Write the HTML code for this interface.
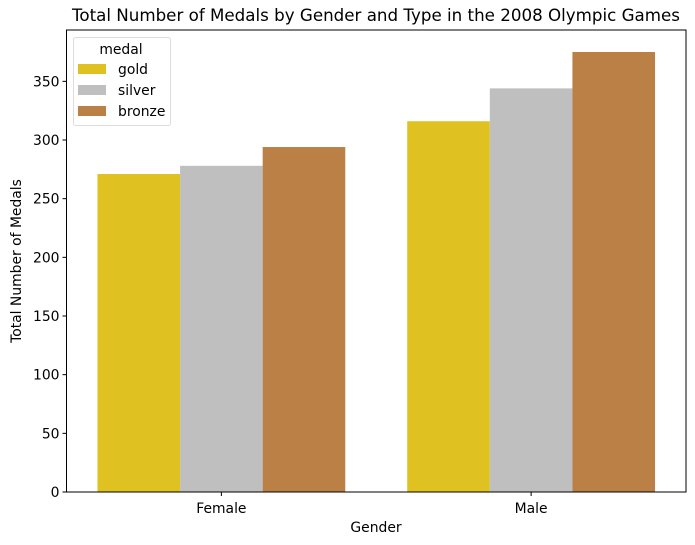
<!DOCTYPE html>
<html><head><meta charset="utf-8"><style>body{margin:0;background:#fff}svg{display:block;font-family:"DejaVu Sans","Liberation Sans",sans-serif}</style></head>
<body>
<svg id="chart" width="695" height="545" xmlns="http://www.w3.org/2000/svg">
<rect width="695" height="545" fill="#fff"/>
<text x="376" y="21" font-size="16.7" text-anchor="middle">Total Number of Medals by Gender and Type in the 2008 Olympic Games</text>
<g id="bars"></g>
<g id="yaxis"></g>
<g id="xaxis"></g>
<rect x="66.5" y="30" width="619.5" height="462" fill="none" stroke="#000" stroke-width="1"/>
<text x="376" y="532" font-size="13.9" text-anchor="middle">Gender</text>
<text transform="translate(21,261) rotate(-90)" font-size="13.9" text-anchor="middle">Total Number of Medals</text>
<g id="legend"></g>
</svg>
<script>
const categories = ["Female", "Male"];
const medals = ["gold", "silver", "bronze"];
const gold = [271, 316];
const silver = [278, 344];
const bronze = [294, 375];
const yTicks = [0, 50, 100, 150, 200, 250, 300, 350];
const colors = {gold: "#dfc221", silver: "#bfbfbf", bronze: "#ba8046"};

const NS = "http://www.w3.org/2000/svg";
const L = 66.5, R = 686, T = 30, B = 492;
const series = {gold, silver, bronze};
const maxV = Math.max(...gold, ...silver, ...bronze) * 1.05;
const y = v => B - v / maxV * (B - T);
const step = (R - L) / categories.length;
const x = i => L + step * (i + 0.5);
const bw = step * 0.8 / medals.length;

function mk(tag, attrs, parent) {
  const e = document.createElementNS(NS, tag);
  for (const k in attrs) e.setAttribute(k, attrs[k]);
  parent.appendChild(e);
  return e;
}
const bars = document.getElementById("bars");
medals.forEach((m, j) => {
  categories.forEach((c, i) => {
    const v = series[m][i];
    const r = mk("rect", {x: x(i) - step * 0.4 + j * bw, y: y(v), width: bw, height: B - y(v), fill: colors[m]}, bars);
    
    
  });
});
const ya = document.getElementById("yaxis");
yTicks.forEach(t => {
  const l = mk("line", {x1: L - 4, x2: L, y1: y(t), y2: y(t), stroke: "#000"}, ya);
  
  
  const tx = mk("text", {x: L - 7, y: y(t) + 5, "font-size": 13.9, "text-anchor": "end"}, ya);
  tx.textContent = t;
  
  
});
const xa = document.getElementById("xaxis");
categories.forEach((c, i) => {
  const l = mk("line", {x1: x(i), x2: x(i), y1: B, y2: B + 4, stroke: "#000"}, xa);
  
  
  const tx = mk("text", {x: x(i), y: B + 21, "font-size": 13.9, "text-anchor": "middle"}, xa);
  tx.textContent = c;
  
  
});
const lg = document.getElementById("legend");


const box = mk("rect", {x: 73.5, y: 37.5, width: 97, height: 88, rx: 2, fill: "#fff", "fill-opacity": 0.8, stroke: "#ddd"}, lg);


const lt = mk("text", {x: 121, y: 54, "font-size": 13.9, "text-anchor": "middle"}, lg);
lt.textContent = "medal";


medals.forEach((m, j) => {
  const sw = mk("rect", {x: 78, y: 64 + j * 21, width: 28, height: 10, fill: colors[m]}, lg);
  
  
  const t = mk("text", {x: 118, y: 74 + j * 21, "font-size": 13.9}, lg);
  t.textContent = m;
  
  
});
</script>
</body></html>
